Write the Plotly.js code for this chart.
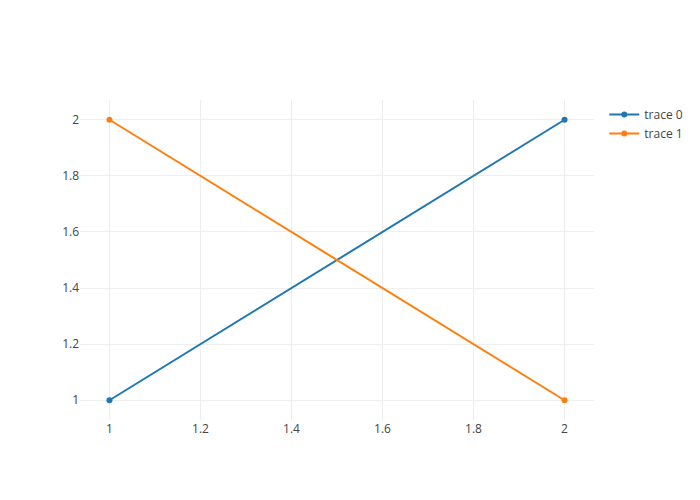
<!DOCTYPE html>
<html>
<head>
<meta charset="utf-8">
<script src="https://cdn.plot.ly/plotly-3.0.1.min.js"></script>
<style>html,body{margin:0;padding:0;}#chart{width:700px;height:500px;}</style>
</head>
<body>
<div id="chart"></div>
<script>
var x0 = [1, 2];
var y0 = [1, 2];
var x1 = [1, 2];
var y1 = [2, 1];
var names = ["trace 0", "trace 1"];

var data = [
  {x: x0, y: y0, type: "scatter", mode: "lines+markers", name: names[0]},
  {x: x1, y: y1, type: "scatter", mode: "lines+markers", name: names[1]}
];
var layout = {width: 700, height: 500};
Plotly.newPlot("chart", data, layout, {displayModeBar: false});
</script>
</body>
</html>
